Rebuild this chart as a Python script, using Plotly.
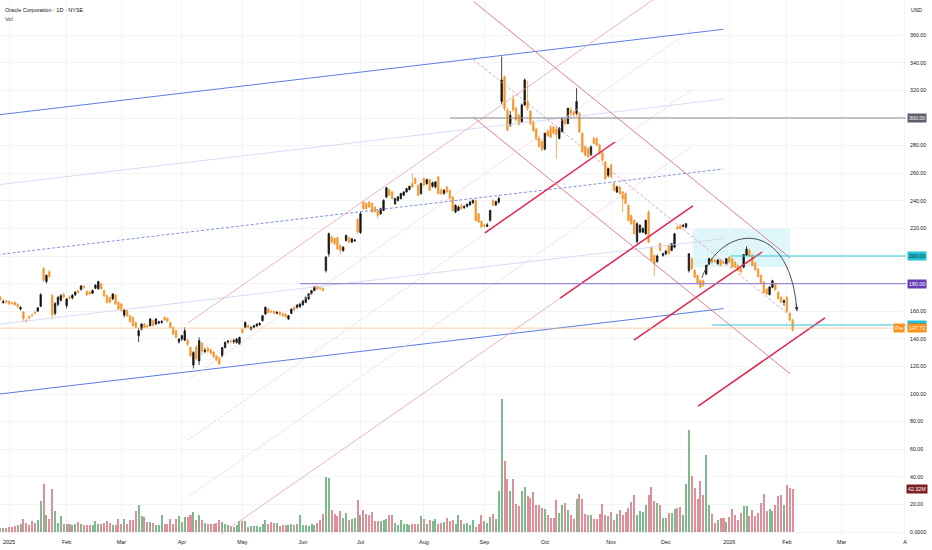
import plotly.graph_objects as go

# ---- daily ORCL bars (bar 0 = 2 Jan 2025) ----
first_bar = -3
opens = [
    170.0, 166.2, 167.5,  # Dec 2024 tail
    # Jan 2025
    167.0, 166.0, 166.5, 165.0, 161.6, 159.5, 153.5, 156.0, 157.0, 159.2,
    160.0, 163.5, 191.0, 181.5, 188.5, 171.5, 158.5, 165.0, 168.0, 172.0,
    # Feb
    164.0, 170.5, 169.6, 172.0, 174.8, 175.8, 178.0, 174.3, 174.0, 173.0,
    176.6, 176.2, 179.8, 175.0, 171.3, 170.0, 169.0, 171.8, 166.4,
    # Mar
    165.2, 157.2, 160.4, 156.7, 155.5, 151.9, 142.2, 147.0, 150.7, 149.5,
    149.5, 153.1, 150.7, 151.5, 151.8, 155.5, 154.8, 151.9, 148.2, 145.8, 137.8,
    # Apr
    139.8, 139.0, 139.0, 133.7, 121.0, 134.0, 124.0, 137.0, 130.8, 133.0,
    132.0, 130.5, 127.5, 126.4, 127.6, 133.7, 137.8, 138.4, 137.8, 137.4, 136.1,
    # May
    147.0, 148.3, 149.5, 147.0, 148.3, 149.5, 150.2, 153.1, 157.9, 161.6,
    160.0, 159.9, 158.5, 159.2, 158.4, 157.9, 154.3, 158.4, 162.8, 162.8, 163.3,
    # Jun
    164.7, 166.4, 168.9, 172.5, 175.0, 177.8, 177.3, 176.5, 189.5, 201.6,
    213.7, 212.5, 213.3, 207.6, 204.0, 211.3, 213.3, 210.1, 211.0, 226.5,
    # Jul
    217.0, 239.1, 238.0, 239.0, 238.0, 235.5, 233.0, 230.6, 233.0, 242.8,
    248.0, 246.4, 237.9, 240.3, 241.6, 244.0, 246.4, 248.1, 252.5, 256.1,
    251.2, 245.2,
    # Aug
    256.1, 252.5, 255.4, 250.5, 250.0, 257.3, 248.0, 245.2, 250.0, 247.6,
    242.8, 231.9, 233.0, 236.7, 235.0, 236.0, 237.0, 238.5, 240.3, 230.6, 225.0,
    # Sep
    222.5, 221.5, 225.8, 240.3, 237.0, 239.0, 312.0, 329.9, 305.8, 295.0,
    313.6, 307.0, 302.0, 297.3, 309.5, 312.0, 305.0, 297.0, 292.0, 285.5, 283.0,
    # Oct
    277.5, 290.5, 293.5, 293.5, 292.0, 285.2, 290.0, 299.0, 296.0, 306.0,
    304.6, 303.4, 303.4, 288.8, 279.1, 277.9, 273.1, 285.2, 285.2, 280.4,
    275.0, 268.2, 258.5,
    # Nov
    266.0, 252.5, 246.4, 250.0, 246.4, 245.2, 236.7, 229.4, 225.8, 210.5,
    217.3, 217.3, 216.1, 231.9, 206.4, 200.4, 196.0, 208.9, 200.4,
    # Dec
    201.6, 207.6, 204.0, 206.4, 221.0, 222.2, 221.5, 221.0, 189.5, 198.0,
    189.5, 185.8, 182.2, 182.0, 187.0, 194.3, 198.0, 197.0, 194.3, 197.0,
    195.5, 194.3,
    # Jan 2026
    199.2, 198.0, 195.5, 193.1, 191.0, 192.0, 200.5, 204.0, 200.5, 195.0,
    190.5, 186.0, 181.0, 176.0, 172.0, 177.3, 180.0, 173.7, 170.0, 166.5,
    # Feb 2026
    170.0, 158.5, 153.5,
]
highs = [
    171.0, 168.5, 168.0,
    168.0, 167.0, 167.0, 166.0, 163.5, 160.0, 154.2, 156.8, 158.5, 160.5,
    163.0, 173.0, 192.0, 186.5, 190.0, 172.5, 166.5, 171.0, 172.5, 173.5,
    169.5, 171.5, 172.5, 174.5, 175.5, 178.8, 179.0, 175.0, 175.0, 175.8,
    179.5, 182.0, 180.5, 175.5, 172.0, 170.5, 173.0, 172.5, 167.0,
    166.0, 161.8, 161.5, 157.5, 156.0, 152.5, 148.0, 151.5, 151.5, 150.5,
    155.0, 154.0, 155.0, 153.0, 153.5, 156.5, 155.5, 152.5, 149.0, 146.5, 140.5,
    143.0, 148.2, 140.0, 134.5, 131.0, 135.5, 141.0, 137.5, 133.5, 134.5,
    133.0, 131.0, 128.0, 126.8, 134.0, 138.0, 139.0, 139.5, 140.0, 140.5, 141.5,
    147.8, 152.5, 150.5, 149.0, 150.0, 151.0, 151.8, 157.2, 163.5, 162.5,
    160.8, 160.5, 160.0, 159.8, 159.0, 158.5, 157.2, 162.0, 163.5, 165.2, 165.8,
    168.0, 170.6, 173.0, 175.5, 178.3, 178.8, 178.0, 177.2, 200.0, 217.0,
    215.0, 213.5, 214.0, 208.5, 207.0, 215.5, 214.0, 213.0, 212.2, 227.5,
    232.0, 240.0, 239.0, 240.0, 238.8, 236.0, 233.8, 235.0, 241.0, 250.0,
    249.0, 247.0, 242.0, 243.5, 245.8, 247.0, 249.5, 251.0, 259.7, 257.0,
    252.0, 253.0,
    257.0, 256.0, 256.0, 254.0, 254.5, 258.0, 249.0, 248.5, 251.0, 248.2,
    243.5, 237.5, 236.5, 237.5, 236.8, 238.0, 240.0, 241.0, 241.0, 231.2, 226.0,
    223.5, 223.8, 233.5, 241.0, 240.0, 243.0, 344.6, 331.0, 307.0, 305.0,
    316.6, 308.5, 303.0, 310.5, 328.5, 327.0, 306.0, 298.5, 293.0, 287.0, 284.5,
    289.5, 292.0, 295.0, 294.0, 294.0, 293.5, 300.5, 300.5, 307.5, 308.0,
    305.5, 321.6, 304.5, 290.0, 280.5, 279.0, 280.0, 286.5, 286.0, 281.5,
    276.0, 269.0, 264.0,
    267.0, 253.5, 251.0, 251.0, 247.0, 246.0, 237.5, 230.0, 226.5, 224.5,
    223.0, 221.0, 226.5, 233.0, 207.0, 201.0, 201.0, 210.0, 202.5,
    204.5, 208.5, 209.5, 216.8, 222.0, 223.0, 223.0, 224.0, 202.0, 199.0,
    190.5, 186.5, 183.0, 183.0, 193.8, 198.8, 199.0, 197.5, 197.8, 197.8,
    196.2, 198.5,
    200.0, 198.8, 196.0, 193.8, 191.8, 201.5, 207.0, 205.5, 201.0, 195.8,
    191.2, 186.8, 181.8, 177.0, 178.2, 182.8, 180.8, 174.5, 170.8, 168.5,
    171.0, 159.2, 154.5,
]
lows = [
    167.5, 165.5, 165.5,
    164.5, 164.5, 164.0, 162.0, 160.5, 153.0, 151.5, 154.0, 156.0, 158.0,
    159.5, 163.0, 181.0, 180.0, 184.0, 154.0, 157.0, 163.5, 167.0, 169.5,
    162.0, 168.5, 168.5, 171.0, 173.0, 175.0, 176.0, 171.0, 172.0, 172.5,
    176.0, 175.5, 175.5, 170.5, 165.5, 165.5, 168.0, 164.5, 161.0,
    159.5, 155.5, 156.0, 151.8, 148.8, 147.5, 137.6, 146.0, 147.5, 148.0,
    149.0, 149.0, 150.0, 150.5, 151.0, 153.0, 152.0, 147.5, 142.8, 140.5, 136.5,
    138.5, 138.5, 134.5, 127.0, 118.4, 124.5, 121.0, 128.0, 129.5, 130.0,
    128.5, 126.0, 123.5, 121.0, 126.5, 133.0, 136.5, 136.8, 136.5, 136.5, 135.5,
    143.5, 147.5, 147.5, 146.0, 147.5, 148.5, 149.5, 152.5, 157.5, 158.5,
    158.8, 157.8, 157.8, 157.0, 156.0, 155.0, 153.5, 157.8, 160.2, 162.0, 162.5,
    164.0, 165.8, 168.2, 172.0, 174.5, 175.5, 175.2, 174.2, 188.0, 199.5,
    209.0, 208.0, 204.5, 201.5, 203.0, 210.5, 209.0, 209.5, 210.2, 216.0,
    216.0, 233.5, 233.8, 235.0, 231.5, 231.5, 227.0, 229.8, 232.5, 242.0,
    243.5, 241.0, 237.0, 239.5, 241.0, 243.5, 246.0, 247.5, 249.5, 252.0,
    243.5, 244.5,
    250.5, 251.5, 247.0, 249.5, 249.0, 244.5, 244.0, 244.5, 245.5, 241.0,
    232.0, 231.0, 232.5, 233.5, 234.2, 235.2, 236.5, 237.8, 225.0, 224.0, 220.5,
    220.5, 221.0, 225.0, 236.0, 236.2, 238.0, 310.0, 305.0, 290.5, 293.5,
    304.5, 297.5, 294.5, 296.5, 308.5, 305.0, 294.5, 289.5, 283.5, 278.5, 276.0,
    276.5, 286.5, 285.5, 288.0, 270.7, 284.5, 289.5, 295.0, 295.5, 301.0,
    301.5, 302.0, 289.0, 274.5, 272.0, 271.0, 272.5, 281.0, 279.5, 273.5,
    268.0, 255.0, 257.0,
    256.5, 247.0, 245.5, 244.5, 231.9, 237.5, 225.0, 222.5, 215.5, 209.0,
    216.5, 216.5, 215.5, 209.5, 196.0, 185.8, 195.0, 203.0, 199.5,
    200.5, 201.0, 203.5, 205.5, 219.0, 219.0, 220.5, 220.0, 188.0, 190.0,
    184.0, 179.0, 176.5, 177.8, 186.0, 193.5, 194.8, 195.2, 193.8, 192.5,
    194.2, 193.8,
    194.8, 191.5, 191.2, 188.8, 186.5, 191.0, 200.0, 199.5, 192.5, 189.5,
    184.5, 179.5, 172.8, 171.8, 171.5, 176.8, 175.0, 168.5, 166.0, 164.0,
    159.0, 152.8, 145.5,
]
closes = [
    168.5, 166.8, 166.6,
    165.5, 165.6, 164.6, 163.4, 162.8, 154.5, 153.0, 155.0, 156.8, 158.6,
    162.5, 172.0, 182.5, 186.0, 185.2, 157.5, 165.5, 170.0, 171.2, 170.1,
    168.8, 169.2, 171.5, 173.8, 173.6, 178.3, 177.0, 171.8, 172.5, 175.0,
    178.9, 181.5, 176.2, 171.0, 166.4, 166.5, 172.5, 165.2, 161.6,
    160.4, 161.0, 156.7, 152.4, 149.5, 148.2, 145.8, 150.7, 148.2, 148.8,
    154.3, 149.5, 154.3, 152.2, 152.6, 153.8, 152.8, 148.2, 143.4, 141.0, 139.8,
    142.2, 145.8, 136.0, 127.6, 130.0, 125.5, 138.6, 131.0, 131.6, 131.2,
    129.5, 127.2, 124.5, 121.6, 133.7, 137.4, 138.4, 138.0, 138.6, 139.8, 141.0,
    144.6, 151.9, 148.3, 148.3, 149.5, 150.7, 151.2, 156.7, 162.8, 159.1,
    159.4, 158.4, 159.2, 157.5, 156.7, 156.0, 156.7, 161.6, 160.9, 164.7, 165.2,
    167.6, 170.1, 172.5, 174.9, 177.8, 176.1, 176.0, 175.0, 199.1, 216.1,
    210.1, 208.9, 205.2, 204.0, 206.4, 214.9, 210.1, 212.5, 211.6, 217.3,
    230.6, 234.3, 234.3, 235.5, 232.0, 232.0, 229.4, 234.3, 240.3, 249.5,
    244.0, 241.6, 241.6, 242.8, 245.2, 246.4, 248.8, 250.5, 250.0, 252.5,
    244.0, 252.5,
    251.2, 255.4, 247.6, 253.0, 253.6, 245.2, 245.2, 247.6, 246.4, 241.6,
    233.0, 236.7, 235.5, 234.3, 235.8, 237.5, 239.1, 240.3, 225.8, 224.6, 221.0,
    221.5, 222.5, 233.0, 236.7, 239.5, 241.6, 327.6, 306.9, 291.3, 302.0,
    305.8, 298.5, 295.5, 309.5, 327.6, 307.0, 296.0, 291.0, 284.5, 279.3, 277.0,
    288.8, 287.0, 286.0, 289.0, 288.0, 292.5, 299.7, 296.0, 307.0, 302.5,
    302.2, 311.9, 290.0, 275.5, 273.1, 271.9, 279.1, 281.6, 280.4, 274.3,
    269.5, 256.1, 263.4,
    257.3, 247.6, 250.0, 245.2, 241.6, 238.0, 225.8, 223.4, 216.1, 223.4,
    222.2, 219.8, 225.8, 210.0, 196.7, 194.3, 200.0, 204.0, 201.6,
    203.4, 201.6, 208.9, 216.1, 219.8, 219.8, 222.2, 223.4, 201.6, 190.7,
    184.6, 179.8, 177.3, 178.6, 193.1, 198.0, 195.5, 196.0, 197.0, 193.1,
    195.0, 198.0,
    195.5, 192.0, 191.9, 189.5, 188.5, 201.0, 205.0, 200.0, 193.1, 190.0,
    185.0, 180.0, 173.5, 172.5, 177.5, 182.0, 175.5, 169.0, 166.5, 167.5,
    160.0, 153.5, 146.2,
]
# volume, millions of shares
volumes = [
    4.0, 3.8, 4.2,
    4.5, 4.9, 5.6, 7.2, 8.2, 13.1, 9.2, 7.2, 10.5, 9.2,
    11.5, 30.2, 47.6, 17.1, 12.5, 42.0, 20.3, 9.2, 15.4, 8.2,
    8.2, 7.5, 7.2, 7.5, 9.8, 7.5, 7.2, 6.6, 7.2, 6.6,
    10.8, 8.2, 8.2, 9.2, 10.5, 8.5, 6.6, 7.2, 12.5,
    7.5, 13.1, 7.5, 12.1, 12.1, 21.0, 26.9, 15.4, 14.8, 9.8,
    9.8, 9.2, 6.6, 6.6, 17.1, 7.5, 8.2, 13.1, 8.2, 13.1, 15.4,
    9.8, 14.8, 14.8, 16.4, 19.7, 12.1, 17.1, 12.1, 9.2, 8.2,
    8.2, 8.2, 9.2, 11.5, 9.8, 8.2, 6.6, 5.9, 5.2, 6.6, 10.5,
    10.5, 11.2, 4.9, 5.6, 5.9, 5.6, 4.6, 7.5, 11.8, 8.2,
    9.8, 8.9, 9.2, 5.9, 6.6, 6.6, 6.6, 7.5, 6.6, 7.5, 17.1,
    7.2, 7.2, 5.6, 7.5, 6.6, 9.2, 11.5, 18.0, 54.1, 53.1,
    22.0, 18.0, 15.4, 20.7, 13.8, 19.0, 11.5, 13.1, 13.8, 31.2,
    16.4, 22.0, 18.0, 16.4, 19.7, 10.5, 10.5, 10.5, 11.5, 12.5,
    17.1, 17.1, 9.2, 7.2, 11.5, 7.5, 8.2, 7.2, 7.5, 8.2,
    8.2, 15.7,
    13.1, 8.2, 11.5, 10.5, 12.5, 8.2, 9.2, 9.8, 13.8, 10.5,
    11.5, 7.5, 16.4, 11.5, 8.2, 9.2, 6.6, 11.5, 4.9, 8.2, 16.4,
    10.5, 9.2, 14.8, 18.0, 13.1, 40.7, 130.5, 69.5, 51.8, 40.0,
    51.8, 27.9, 25.3, 40.0, 44.3, 35.4, 33.8, 39.4, 26.2, 26.2, 23.6,
    23.0, 16.4, 13.8, 13.8, 31.2, 19.0, 26.2, 28.5, 21.3, 17.1,
    13.1, 32.1, 37.7, 32.8, 18.0, 16.4, 17.1, 13.1, 12.5, 18.0,
    27.9, 16.4, 15.7,
    19.7, 11.5, 18.0, 21.3, 16.4, 19.7, 23.6, 29.5, 36.1, 16.4,
    20.3, 19.7, 26.9, 36.1, 44.3, 30.5, 28.9, 26.2, 14.1,
    13.8, 19.0, 19.0, 22.3, 23.6, 24.6, 17.1, 47.6, 100.0, 55.1,
    43.6, 32.1, 49.9, 36.1, 76.1, 26.9, 18.0, 9.2, 11.5, 13.8,
    13.8, 9.8,
    14.8, 22.3, 16.4, 11.5, 19.0, 25.6, 25.3, 15.4, 22.0, 15.7,
    18.7, 28.9, 37.7, 20.3, 23.0, 20.3, 26.9, 35.4, 36.7, 26.9,
    46.6, 43.3, 42.3,
]

# x-axis month marks (bar numbers of the first session of each month)
month_ticks = [0, 20, 39, 60, 81, 102, 122, 144, 165, 186, 209, 228, 250, 270, 289, 311]
month_labels = ["2025", "Feb", "Mar", "Apr", "May", "Jun", "Jul", "Aug", "Sep",
                "Oct", "Nov", "Dec", "2026", "Feb", "Mar", "A"]
price_ticks = list(range(0, 361, 20))
price_labels = ["0.0000"] + ["%.2f" % v for v in price_ticks[1:]]

# drawings: (bar0, price0, bar1, price1, style)
trendlines = [
    # long blue channel
    (-4, 302.2, 248, 364.3, "blue"),
    (-4, 251.6, 248, 313.7, "bluefaint"),
    (-4, 201.0, 248, 263.1, "bluedash"),
    (-4, 150.4, 248, 212.5, "bluefaint"),
    (-4, 99.8, 248, 161.9, "blue"),
    # rising channel from the April low
    (62.1, 151.4, 237.4, 405.8, "pink"),
    (62.1, 110.1, 237.4, 364.5, "pinkfaint"),
    (62.1, 66.7, 237.4, 321.1, "pinkdash"),
    (62.1, 25.4, 237.4, 279.8, "pinkfaint"),
    (62.1, -18.1, 191.3, 169.4, "pink"),
    (191.3, 169.4, 237.4, 236.3, "red"),
    # short support segments
    (165.2, 216.7, 210.3, 282.6, "red"),
    (216.9, 139.1, 261.4, 202.9, "red"),
    (239.2, 91.3, 283.2, 155.1, "red"),
    # falling channel from the September top
    (161.2, 384.5, 271.1, 198.7, "rose"),
    (161.2, 342.5, 271.1, 156.7, "rosedash"),
    (161.2, 300.5, 271.1, 114.7, "rose"),
]
levels = [(153.1, 300.0, "gray"), (101.0, 180.0, "purple"),
          (250.3, 200.0, "cyan"), (244.0, 150.0, "cyan")]
last_price = 147.72
last_volume = 42.32
zone = (237.4, 192.0, 271.1, 220.3)
arc = [(240.5, 184.1), (246.8, 222.5), (271.1, 229.7), (273.5, 160.1)]

styles = {
    "blue": dict(color="#5b7ee5", width=1),
    "bluefaint": dict(color="#cdd3f3", width=0.8),
    "bluedash": dict(color="#6f86e6", width=0.9, dash="3px,2px"),
    "pink": dict(color="#f2a0ab", width=0.8),
    "pinkfaint": dict(color="#f6d6db", width=0.7),
    "pinkdash": dict(color="#efb4bd", width=0.7, dash="2px,2px"),
    "red": dict(color="#e3234b", width=1.5),
    "rose": dict(color="#e56f86", width=0.9),
    "rosedash": dict(color="#ea8d9d", width=0.8, dash="3px,2px"),
    "gray": dict(color="#8a8a8a", width=1),
    "purple": dict(color="#9a8ad6", width=1.4),
    "cyan": dict(color="#37c5d6", width=1.1),
}

W, H = 932, 550
plot_w, plot_h = 906, 534
bar_px = 2.881
x_rng = [(0 - 9) / bar_px, (plot_w - 9) / bar_px]
y_rng = [(532 - plot_h) / 1.38, 532 / 1.38]
v_rng = [(532 - plot_h) / 1.016, 532 / 1.016]

bars = list(range(first_bar, first_bar + len(closes)))
up_down = [c >= o for o, c in zip(opens, closes)]
vol_colors = ["#7dba8c" if u else "#de8f99" for u in up_down]

fig = go.Figure()
fig.add_trace(go.Bar(x=bars, y=volumes, marker_color=vol_colors, marker_line_width=0,
                     width=0.7, yaxis="y2", showlegend=False, hoverinfo="skip"))
fig.add_trace(go.Candlestick(
    x=bars, open=opens, high=highs, low=lows, close=closes,
    increasing=dict(line=dict(color="#141414", width=0.8), fillcolor="#141414"),
    decreasing=dict(line=dict(color="#f7962b", width=0.8), fillcolor="#f7962b"),
    showlegend=False))

shapes = []
shapes.append(dict(type="rect", xref="x", yref="y", x0=zone[0], y0=zone[1], x1=zone[2], y1=zone[3],
                   fillcolor="rgba(0,188,212,0.13)", line=dict(width=0), layer="below"))
for x0, y0, x1, y1, st in trendlines:
    shapes.append(dict(type="line", xref="x", yref="y", x0=x0, y0=y0, x1=x1, y1=y1,
                       line=styles[st], layer="above"))
for x0, lvl, st in levels:
    shapes.append(dict(type="line", xref="x", yref="y", x0=x0, y0=lvl, x1=x_rng[1] + 5, y1=lvl,
                       line=styles[st], layer="above"))
shapes.append(dict(type="line", xref="x", yref="y", x0=x_rng[0] - 1, y0=last_price,
                   x1=x_rng[1] + 5, y1=last_price, line=dict(color="#f8bd85", width=0.7)))
p0, c1, c2, p3 = arc
shapes.append(dict(type="path", xref="x", yref="y",
                   path="M %s,%s C %s,%s %s,%s %s,%s" % (p0 + c1 + c2 + p3),
                   line=dict(color="#3a3a3a", width=0.9)))

font_fam = "Liberation Sans, Arial, sans-serif"
txt = "#131722"


def px_x(px):
    return px / plot_w


def px_y(py):
    return 1 - py / plot_h


annos = [
    dict(x=px_x(3), y=px_y(10), xref="paper", yref="paper", text="Oracle Corporation · 1D · NYSE",
         showarrow=False, xanchor="left", yanchor="middle", font=dict(size=5.5, color=txt)),
    dict(x=px_x(3), y=px_y(19), xref="paper", yref="paper", text="Vol",
         showarrow=False, xanchor="left", yanchor="middle", font=dict(size=5.5, color="#444")),
    dict(x=px_x(916), y=px_y(10), xref="paper", yref="paper", text="USD",
         showarrow=False, xanchor="center", yanchor="middle", font=dict(size=5.3, color=txt)),
    dict(x=p3[0], y=p3[1], ax=-1, ay=-9, xref="x", yref="y", text="", showarrow=True,
         arrowhead=2, arrowsize=0.9, arrowwidth=0.9, arrowcolor="#3a3a3a"),
]
boxes = [
    ("300.00", 300.0, "y", "#5d606b", "white"),
    ("200.00", 200.0, "y", "#22c3d6", "#0d2a30"),
    ("180.00", 180.0, "y", "#673ab7", "white"),
    ("150.00", 150.0, "y", "#22c3d6", "#0d2a30"),
    ("%.2f" % last_price, last_price, "y", "#f7931a", "white"),
    ("%.2fM" % last_volume, last_volume, "y2", "#7f1d24", "white"),
]
for label, val, yr, bg, fg in boxes:
    annos.append(dict(x=px_x(917), y=val, xref="paper", yref=yr, text=label, showarrow=False,
                      xanchor="center", yanchor="middle", bgcolor=bg, borderpad=1,
                      font=dict(size=5.3, color=fg)))
annos.append(dict(x=px_x(899), y=last_price, xref="paper", yref="y", text="Pre", showarrow=False,
                  xanchor="center", yanchor="middle", bgcolor="#f7931a", borderpad=1,
                  font=dict(size=5.3, color="white")))

fig.update_layout(
    width=W, height=H, autosize=False,
    margin=dict(l=0, r=W - plot_w, t=0, b=H - plot_h),
    paper_bgcolor="white", plot_bgcolor="white",
    font=dict(family=font_fam, size=5.4, color=txt),
    showlegend=False, bargap=0,
    shapes=shapes, annotations=annos,
    xaxis=dict(range=x_rng, tickvals=month_ticks, ticktext=month_labels, showgrid=True,
               gridcolor="#f3f4f8", gridwidth=0.6, zeroline=False, showline=False, ticks="",
               ticklabelstandoff=4, tickfont=dict(size=5.4, color=txt),
               rangeslider=dict(visible=False), automargin=False, fixedrange=True),
    yaxis=dict(range=y_rng, side="right", tickvals=price_ticks, ticktext=price_labels,
               showgrid=True, gridcolor="#f3f4f8", gridwidth=0.6, zeroline=False, showline=False,
               ticks="", ticklabelstandoff=3, tickfont=dict(size=5.3, color=txt),
               automargin=False, fixedrange=True),
    yaxis2=dict(range=v_rng, overlaying="y", visible=False, fixedrange=True),
)

# the page's default body margin would shift the whole figure; drop it
fig.write_html("out.html", config={"displayModeBar": False},
               post_script="document.body.style.margin='0';document.body.style.padding='0';")
